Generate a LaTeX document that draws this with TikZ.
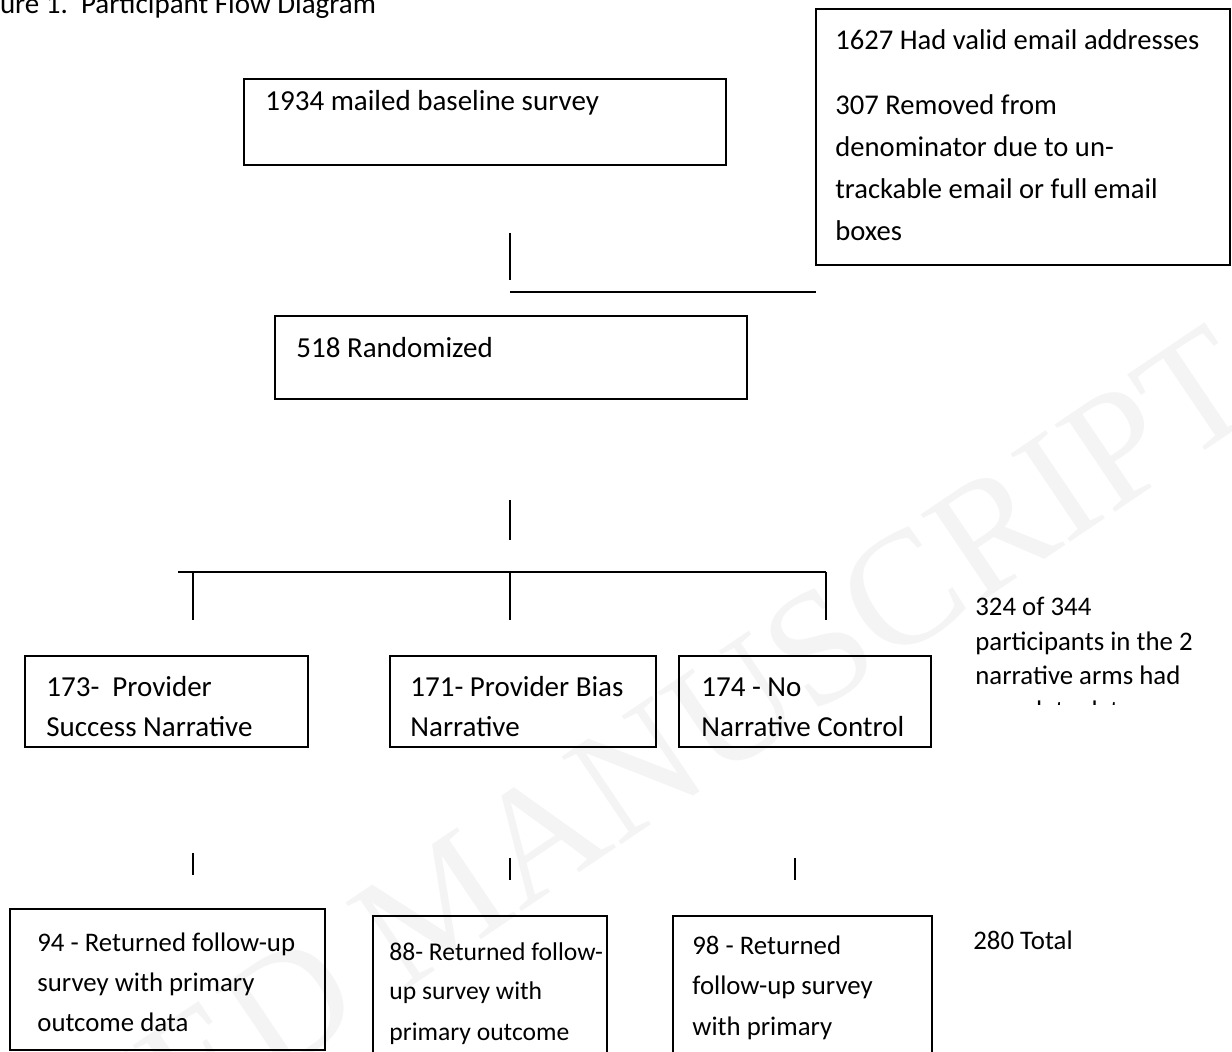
\documentclass[tikz,border=0pt]{standalone}
\usepackage{fontspec}
\setmainfont{Carlito}
\newfontfamily\wmfont{Liberation Serif}
\usetikzlibrary{fit}

% lines of a box text, first baseline on the node's base
\newcommand{\boxlines}[1]{\vtop{\halign{##\hfil\cr#1\crcr}}}

\begin{document}
\begin{tikzpicture}[x=0.5pt, y=-0.5pt,
		box/.style={draw=black, line width=0.9pt, inner sep=0pt},
		txt/.style={anchor=base west, inner sep=0pt, font=\fontsize{14.5}{20}\selectfont},
		small/.style={txt, font=\fontsize{13.4}{20}\selectfont},
		link/.style={line width=0.8pt}]
		
		\useasboundingbox (0,0) rectangle (1232,1052);
		
		% Marca de agua
		\node[rotate=34, text=gray!9, font=\wmfont\fontsize{81}{81}\selectfont] (wm) at (441,903) {ACCEPTED MANUSCRIPT};
		
		% Titulo
		\node[txt] (title) at (-34,14) {Figure 1.~~Participant Flow Diagram};
		
		% Nivel 0
		\node[box, fit={(244,79) (726,165)}] (mail) {};
		\node[txt] (mail-t) at (265,111) {1934 mailed baseline survey};
		\node[box, fit={(816,9) (1230,265)}] (email) {};
		\node[txt, font=\fontsize{14.3}{21}\selectfont] (email-t) at (835,50)
			{\boxlines{1627 Had valid email addresses\cr\noalign{\vskip 11.5pt}307 Removed from\cr denominator due to un-\cr trackable email or full email\cr boxes}};
		
		% Nivel 1
		\node[box, fit={(275,316) (747,399)}] (rand) {};
		\node[txt] (rand-t) at (296,358) {518 Randomized};
		
		% Nivel 2
		\node[box, fit={(25,656) (308,747)}] (arm1) {};
		\node[txt] (arm1-t) at (46,697) {\boxlines{173-~~Provider\cr Success Narrative}};
		\node[box, fit={(390,656) (656,747)}] (arm2) {};
		\node[txt] (arm2-t) at (410,697) {\boxlines{171- Provider Bias\cr Narrative}};
		\node[box, fit={(679,656) (931,747)}] (arm3) {};
		\node[txt] (arm3-t) at (701,697) {\boxlines{174 - No\cr Narrative Control}};
		
		\begin{scope}
			\clip (960,570) rectangle (1232,705);
			\node[small, font=\fontsize{13.4}{17.2}\selectfont] (note) at (975,616)
				{\boxlines{324 of 344\cr participants in the 2\cr narrative arms had\cr complete data}};
		\end{scope}
		
		% Nivel 3
		\node[box, fit={(10,909) (325,1050)}] (ret1) {};
		\node[small] (ret1-t) at (37,951) {\boxlines{94 - Returned follow-up\cr survey with primary\cr outcome data}};
		\node[box, fit={(373,916) (607,1090)}] (ret2) {};
		\node[small, font=\fontsize{12.8}{20}\selectfont] (ret2-t) at (389,960) {\boxlines{88- Returned follow-\cr up survey with\cr primary outcome}};
		\node[small] (total) at (973,950) {280 Total};
		\node[box, fit={(673,916) (932,1090)}] (ret3) {};
		\node[small] (ret3-t) at (692,955) {\boxlines{98 - Returned\cr follow-up survey\cr with primary}};
		
		% Puntos de las lineas
		\coordinate (v1a) at (510,233);  \coordinate (v1b) at (510,280);
		\coordinate (h1a) at (510,292);  \coordinate (h1b) at (816,292);
		\coordinate (v2a) at (510,500);  \coordinate (v2b) at (510,540);
		\coordinate (h2a) at (178,572);  \coordinate (h2b) at (826,572);
		\coordinate (d1) at (193,620);   \coordinate (u1) at (193,572);
		\coordinate (d2) at (510,620);   \coordinate (u2) at (510,572);
		\coordinate (d3) at (826,620);   \coordinate (u3) at (826,572);
		\coordinate (s1a) at (193,853);  \coordinate (s1b) at (193,875);
		\coordinate (s2a) at (510,858);  \coordinate (s2b) at (510,880);
		\coordinate (s3a) at (795,858);  \coordinate (s3b) at (795,880);
		
		% Lineas
		\draw[link] (v1a) -- (v1b);
		\draw[link] (h1a) -- (h1b);
		\draw[link] (v2a) -- (v2b);
		\draw[link] (h2a) -- (h2b);
		\draw[link] (u1) -- (d1);
		\draw[link] (u2) -- (d2);
		\draw[link] (u3) -- (d3);
		\draw[link] (s1a) -- (s1b);
		\draw[link] (s2a) -- (s2b);
		\draw[link] (s3a) -- (s3b);
		
	\end{tikzpicture}
\end{document}
